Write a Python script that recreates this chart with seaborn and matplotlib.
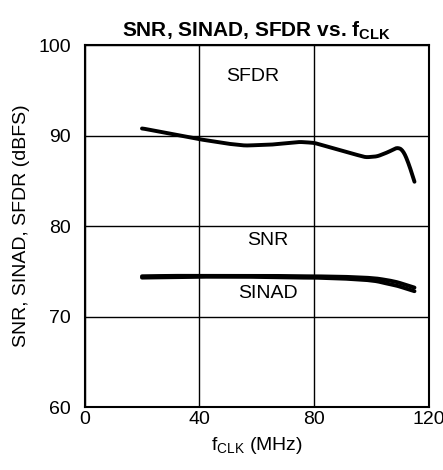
import numpy as np
import pandas as pd
import matplotlib
matplotlib.use("Agg")
import matplotlib.pyplot as plt
import seaborn as sns

# Data
fclk = [20, 30, 40, 50, 56, 65, 75, 80, 90, 98, 102, 106, 109, 111, 113, 115]
sfdr = [90.8, 90.2, 89.6, 89.1, 88.9, 89.0, 89.3, 89.2, 88.3, 87.6, 87.7, 88.2, 88.7, 88.4, 86.9, 84.9]
snr = [74.45, 74.5, 74.5, 74.5, 74.5, 74.5, 74.45, 74.45, 74.4, 74.3, 74.2, 74.0, 73.8, 73.6, 73.4, 73.2]
sinad = [74.3, 74.35, 74.4, 74.4, 74.4, 74.35, 74.3, 74.3, 74.2, 74.05, 73.9, 73.6, 73.4, 73.2, 73.0, 72.8]

xticks = [0, 40, 80, 120]
yticks = [60, 70, 80, 90, 100]

sns.set_theme(style="white", rc={"text.color": "black", "axes.labelcolor": "black",
                                 "xtick.color": "black", "ytick.color": "black"})
plt.rcParams['font.family'] = ['Liberation Sans', 'DejaVu Sans']

df = pd.DataFrame({"fclk": fclk * 3,
                   "value": sfdr + snr + sinad,
                   "series": ["SFDR"] * len(fclk) + ["SNR"] * len(fclk) + ["SINAD"] * len(fclk)})

fig = plt.figure(figsize=(4.43, 4.70), dpi=100)
ax = fig.add_axes([0.191, 0.134, 0.777, 0.770])

for name in ["SFDR", "SNR", "SINAD"]:
    sub = df[df.series == name]
    # light smoothing of the read points for drawing
    xs = np.linspace(sub.fclk.min(), sub.fclk.max(), 400)
    ys = np.interp(xs, sub.fclk, sub.value)
    k = np.ones(9) / 9
    ys_s = np.convolve(np.pad(ys, 4, mode='edge'), k, mode='valid')
    ys_s[-4:] = ys[-4:]
    sns.lineplot(x=xs, y=ys_s, ax=ax, color='black', linewidth=2.8)

ax.set_xlim(0, 120)
ax.set_ylim(60, 100)
ax.set_xticks(xticks)
ax.set_yticks(yticks)
ax.grid(True, color='black', linewidth=1.0)
for s in ax.spines.values():
    s.set_color('black')
    s.set_linewidth(1.5)
ax.tick_params(axis='y', labelsize=14, colors='black', length=0, pad=10)
ax.tick_params(axis='x', labelsize=14, colors='black', length=0, pad=3)

ax.text(58.6, 96.5, "SFDR", fontsize=14, ha='center', va='center', color='black')
ax.text(63.9, 78.4, "SNR", fontsize=14, ha='center', va='center', color='black')
ax.text(63.9, 72.6, "SINAD", fontsize=14, ha='center', va='center', color='black')

ax.set_title(r"SNR, SINAD, SFDR vs. f$_\mathregular{CLK}$", fontsize=15, fontweight='bold',
             pad=6, color='black')
ax.set_xlabel(r"f$_\mathregular{CLK}$ (MHz)", fontsize=14, labelpad=5, color='black')
ax.set_ylabel("SNR, SINAD, SFDR (dBFS)", fontsize=14, labelpad=6, color='black')

fig.savefig("out.png", dpi=100)
